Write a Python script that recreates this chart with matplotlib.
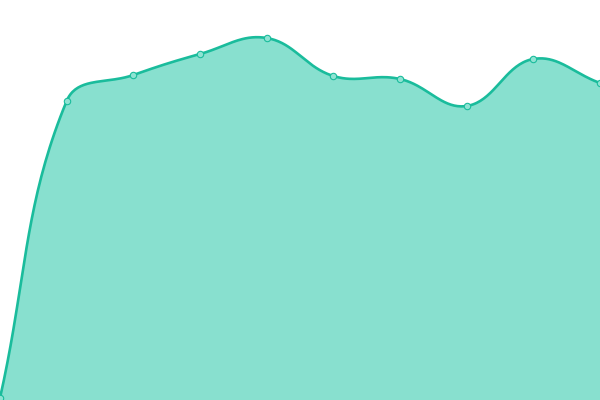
import matplotlib
matplotlib.use('Agg')
import matplotlib.pyplot as plt
import numpy as np

# values (0 = bottom, 400 = top)
labels = ['1', '2', '3', '4', '5', '6', '7', '8', '9', '10']
values = [2, 299, 325, 346, 362, 324, 321, 294, 341, 317]

lineColor = '#1abc9c'
fillColor = '#88e0cf'
pointFill = '#8fe3d3'
tension = 0.4


def splineControls(px, py, t):
    # chart.js style bezier control points
    n = len(px)
    c1 = np.zeros((n, 2))
    c2 = np.zeros((n, 2))
    for i in range(n):
        prev = np.array([px[max(i - 1, 0)], py[max(i - 1, 0)]])
        cur = np.array([px[i], py[i]])
        nxt = np.array([px[min(i + 1, n - 1)], py[min(i + 1, n - 1)]])
        d01 = np.hypot(*(cur - prev))
        d12 = np.hypot(*(nxt - cur))
        tot = d01 + d12
        s01 = d01 / tot if tot else 0
        s12 = d12 / tot if tot else 0
        c1[i] = cur - t * s01 * (nxt - prev)
        c2[i] = cur + t * s12 * (nxt - prev)
    return c1, c2


fig = plt.figure(figsize=(6, 4), dpi=100)
ax = fig.add_axes([0, 0, 1, 1])

W, H = 600, 400
xs = np.linspace(0, W, len(values))
ys = np.array(values, dtype=float)

c1, c2 = splineControls(xs, ys, tension)
c1[:, 1] = np.clip(c1[:, 1], 0, H)
c2[:, 1] = np.clip(c2[:, 1], 0, H)

tt = np.linspace(0, 1, 40)[:, None]
curve = []
for i in range(len(values) - 1):
    p0 = np.array([xs[i], ys[i]])
    p3 = np.array([xs[i + 1], ys[i + 1]])
    p1, p2 = c2[i], c1[i + 1]
    seg = ((1 - tt) ** 3) * p0 + 3 * ((1 - tt) ** 2) * tt * p1 \
        + 3 * (1 - tt) * tt ** 2 * p2 + tt ** 3 * p3
    curve.append(seg if i == 0 else seg[1:])
curve = np.vstack(curve)

ax.fill_between(curve[:, 0], 0, curve[:, 1], color=fillColor, lw=0)
ax.plot(curve[:, 0], curve[:, 1], color=lineColor, lw=1.9, solid_capstyle='round')
ax.plot(xs, ys, 'o', ms=4.6, mfc=pointFill, mec=lineColor, mew=0.8)

ax.set_xlim(0, W)
ax.set_ylim(0, H)
ax.axis('off')

fig.savefig('out.png', dpi=100)
